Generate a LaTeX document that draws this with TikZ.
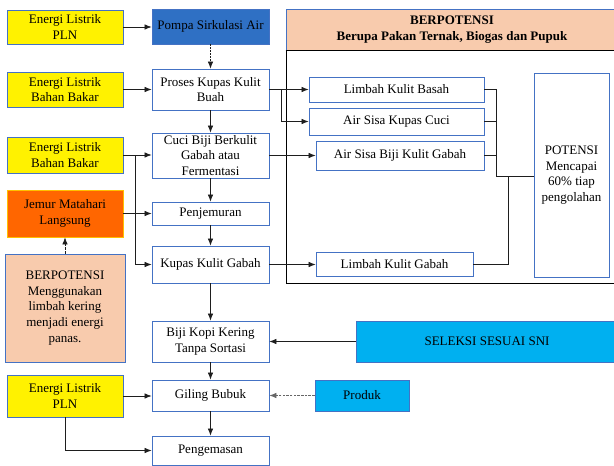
\documentclass[tikz,border=0pt]{standalone}
\usepackage{fontspec}
\setmainfont{Liberation Serif}
\usetikzlibrary{arrows.meta}
\definecolor{boxblue}{RGB}{68,114,196}
\definecolor{pompablue}{RGB}{47,112,196}
\definecolor{sniblue}{RGB}{0,176,240}
\definecolor{peach}{RGB}{248,203,173}
\definecolor{sunorange}{RGB}{255,102,0}
\definecolor{gold}{RGB}{255,192,0}
\definecolor{linegray}{RGB}{30,30,30}
\tikzset{
  box/.style={draw=boxblue, line width=0.8pt, align=center, inner sep=1pt,
    font=\fontsize{13}{15.6}\selectfont, fill=white},
  energy/.style={box, fill=yellow, minimum width=116pt},
  proc/.style={box, minimum width=117pt},
  waste/.style={box},
  arr/.style={draw=linegray, line width=0.7pt, -{Latex[length=7pt,width=5.5pt]}},
  link/.style={draw=linegray, line width=0.7pt},
  dotarr/.style={arr, dash pattern=on 1.5pt off 1.5pt},
  dasharr/.style={arr, dash pattern=on 2.5pt off 1.2pt, draw=gray!80!black},
}
\begin{document}
\begin{tikzpicture}[x=1pt,y=-1pt]
\useasboundingbox (0,0) rectangle (614,466);
\clip (0,0) rectangle (614,466);

% outer frame of the potential-waste area with its header
\node[draw=black, line width=1pt, minimum width=332pt, minimum height=274pt, inner sep=0pt] (frame) at (452,146) {};
\node[box, fill=peach, minimum width=332pt, minimum height=41pt, font=\fontsize{13}{15.6}\selectfont\bfseries] (header) at (452,29.5) {BERPOTENSI\\Berupa Pakan Ternak, Biogas dan Pupuk};
\draw[black, line width=1pt] (header.south west) -- (header.south east);

% energy sources and supports (left column)
\node[energy, minimum height=34pt] (pln1) at (65,27) {Energi Listrik\\PLN};
\node[energy, minimum height=35pt] (bb1) at (65,89.5) {Energi Listrik\\Bahan Bakar};
\node[energy, minimum height=36pt] (bb2) at (65,155) {Energi Listrik\\Bahan Bakar};
\node[box, draw=gold, fill=sunorange, minimum width=116pt, minimum height=47pt] (jemur) at (65,213.5) {Jemur Matahari\\Langsung};
\node[box, fill=peach, minimum width=120pt, minimum height=108pt] (berpot) at (65,308) {BERPOTENSI\\Menggunakan\\limbah kering\\menjadi energi\\panas.};
\node[energy, minimum height=42pt] (pln2) at (65,396) {Energi Listrik\\PLN};

% process steps (centre column)
\node[proc, fill=pompablue, minimum height=35pt] (pompa) at (210.5,26.5) {Pompa Sirkulasi Air};
\node[proc, minimum height=41pt] (proses) at (210.5,89.5) {Proses Kupas Kulit\\Buah};
\node[proc, minimum height=45pt] (cuci) at (210.5,155.5) {Cuci Biji Berkulit\\Gabah atau\\Fermentasi};
\node[proc, minimum height=23pt] (jemuran) at (210.5,213.5) {Penjemuran};
\node[proc, minimum height=37pt] (kupas) at (210.5,264.5) {Kupas Kulit Gabah};
\node[proc, minimum height=41pt] (biji) at (210.5,341.5) {Biji Kopi Kering\\Tanpa Sortasi};
\node[proc, minimum height=31pt] (giling) at (210.5,395.5) {Giling Bubuk};
\node[proc, minimum height=29pt] (kemas) at (210.5,450.5) {Pengemasan};

% waste streams
\node[waste, minimum width=175pt, minimum height=25pt] (lkb) at (396.5,89.5) {Limbah Kulit Basah};
\node[waste, minimum width=175pt, minimum height=27pt] (ask) at (396.5,121.5) {Air Sisa Kupas Cuci};
\node[waste, minimum width=168pt, minimum height=29pt] (asb) at (400,155.5) {Air Sisa Biji Kulit Gabah};
\node[waste, minimum width=157pt, minimum height=24pt] (lkg) at (394.5,264) {Limbah Kulit Gabah};
\node[waste, minimum width=75pt, minimum height=204pt] (potensi) at (571.5,175) {POTENSI\\Mencapai\\60\% tiap\\pengolahan};

% sorting and product
\node[box, fill=sniblue, minimum width=262pt, minimum height=41pt] (seleksi) at (487,341.5) {SELEKSI SESUAI SNI};
\node[box, fill=sniblue, minimum width=94pt, minimum height=31pt] (produk) at (362,395.5) {Produk};

% branching points
\coordinate (jb) at (135,155);
\coordinate (jp) at (281,89.5);
\coordinate (jw) at (496,176);
\coordinate (jg) at (508,176);

% energy inputs
\draw[arr] (pln1.east) -- (pln1.east -| pompa.west);
\draw[arr] (bb1.east) -- (bb1.east -| proses.west);
\draw[arr] (bb2.east) -- (bb2.east -| cuci.west);
\draw[arr] (jb) |- (kupas.west);
\draw[arr] (jemur.east) -- (jemur.east -| jemuran.west);
\draw[dasharr, draw=linegray] (berpot.north) -- (jemur.south);
\draw[arr] (pln2.east) -- (pln2.east -| giling.west);
\draw[arr] (pln2.south) |- (kemas.west);

% main flow
\draw[dotarr] (pompa.south) -- (proses.north);
\draw[arr] (proses.south) -- (cuci.north);
\draw[arr] (cuci.south) -- (jemuran.north);
\draw[arr] (jemuran.south) -- (kupas.north);
\draw[arr] (kupas.south) -- (biji.north);
\draw[arr] (biji.south) -- (giling.north);
\draw[arr] (giling.south) -- (kemas.north);
\draw[arr] (seleksi.west) -- (biji.east);
\draw[dasharr] (produk.west) -- (giling.east);

% waste outputs
\draw[arr] (proses.east) -- (proses.east -| lkb.west);
\draw[arr] (jp) |- (ask.west);
\draw[arr] (cuci.east) -- (cuci.east -| asb.west);
\draw[arr] (kupas.east) -- (kupas.east -| lkg.west);

% collection into potential
\draw[link] (lkb.east) -| (jw);
\draw[link] (ask.east) -| (jw);
\draw[link] (asb.east) -| (jw);
\draw[link] (jw) -- (jw -| potensi.west);
\draw[link] (lkg.east) -| (jg);
\end{tikzpicture}
\end{document}
